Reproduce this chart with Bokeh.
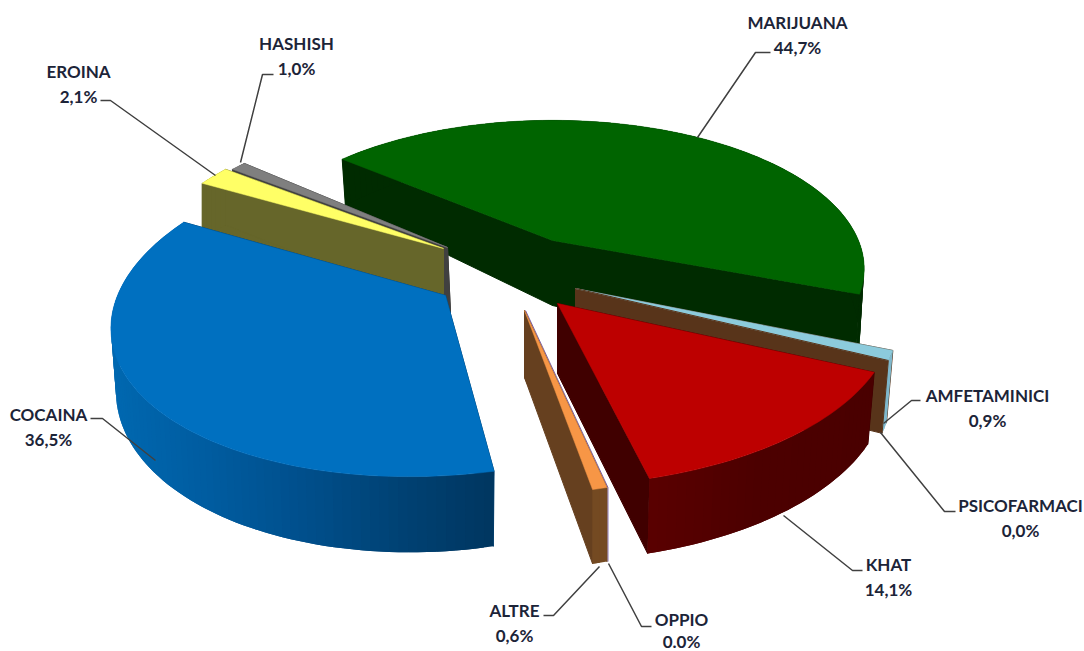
import math
from bokeh.plotting import figure
from bokeh.core.properties import value
from bokeh.embed import file_html
from bokeh.resources import INLINE

# data (clockwise from the first angle)
categories = ["MARIJUANA", "AMFETAMINICI", "PSICOFARMACI", "KHAT", "OPPIO", "ALTRE", "COCAINA", "EROINA", "HASHISH"]
shares = [44.7, 0.9, 0.0, 14.1, 0.0, 0.6, 36.5, 2.1, 1.0]
share_labels = ["44,7%", "0,9%", "0,0%", "14,1%", "0.0%", "0,6%", "36,5%", "2,1%", "1,0%"]

FIRST_ANGLE = 140.4

# look of each slice: colours
top_colors = {"MARIJUANA": "#006400", "AMFETAMINICI": "#8ccbdc", "PSICOFARMACI": "#5a3419", "KHAT": "#bd0000",
              "OPPIO": "#7a5aa0", "ALTRE": "#f79646", "COCAINA": "#0070c0", "EROINA": "#ffff66", "HASHISH": "#7f7f7f"}
radial_colors = {"MARIJUANA": "#002b00", "AMFETAMINICI": "#58341a", "KHAT": "#400000", "ALTRE": "#66401f",
                 "COCAINA": "#004070", "EROINA": "#66662a", "HASHISH": "#404040"}
# wall shading, left to right
outer_stops = {"MARIJUANA": ["#002b00", "#002b00"], "AMFETAMINICI": ["#7fb8cc", "#7fb8cc"],
               "KHAT": ["#5a0000", "#4c0000", "#4a0000"], "ALTRE": ["#744a22", "#744a22"],
               "COCAINA": ["#0068b0", "#005ca0", "#004f8c", "#004274", "#003660"],
               "EROINA": ["#66662a", "#66662a"], "HASHISH": ["#404040", "#404040"]}
# apex x, apex y, a, b, perspective k, shear, depth, depth exponent, bottom taper
geometry = {
    "MARIJUANA": (552, 240, 306, 143, 0.19, 0.0, 65, 3.0, 0.985),
    "AMFETAMINICI": (575, 288, 320, 165, 0.19, 0.06, 70, 0.5, 0.98),
    "PSICOFARMACI": (575, 288, 320, 165, 0.19, 0.06, 70, 0.5, 0.98),
    "KHAT": (557, 303, 335, 164, 0.10, 0.04, 70, 0.7, 0.98),
    "OPPIO": (525, 310, 320, 150, 0.19, 0.125, 67, 0.5, 1.0),
    "ALTRE": (524, 310, 320, 150, 0.19, 0.125, 67, 0.5, 1.0),
    "COCAINA": (445, 295, 328, 163, 0.10, 0.2, 60, 2.2, 0.985),
    "EROINA": (443, 248, 298, 151, 0.19, 0.0, 62, 1.0, 1.0),
    "HASHISH": (447, 247, 294, 149, 0.19, 0.0, 65, 1.0, 1.0),
}
apex_bottom_shift = {"HASHISH": 3}
draw_order = ["MARIJUANA", "HASHISH", "EROINA", "COCAINA", "AMFETAMINICI", "PSICOFARMACI", "KHAT", "OPPIO", "ALTRE"]

# label line centres, leader path
label_pos = {"MARIJUANA": (797, 22, 47), "AMFETAMINICI": (987, 395, 420), "PSICOFARMACI": (1020, 505, 530),
             "KHAT": (888, 564, 589), "OPPIO": (681, 619, 641), "ALTRE": (514, 610, 635), "COCAINA": (48, 414, 439),
             "EROINA": (78, 71, 96), "HASHISH": (296, 43, 68)}
leaders = {"MARIJUANA": [(697, 137), (755, 52), (770, 52)],
           "AMFETAMINICI": [(883, 423), (911, 400), (920, 400)],
           "PSICOFARMACI": [(880, 432), (944, 511), (955, 511)],
           "KHAT": [(783, 515), (852, 570), (862, 570)],
           "OPPIO": [(608, 563), (641, 626), (651, 626)],
           "ALTRE": [(599, 566), (553, 615), (543, 615)],
           "COCAINA": [(155, 460), (102, 418), (90, 418)],
           "EROINA": [(215, 175), (110, 100), (100, 100)],
           "HASHISH": [(240, 162), (262, 74), (273, 74)]}

p = figure(width=1084, height=651, x_range=(0, 1084), y_range=(651, 0), output_backend="svg",
           toolbar_location=None, min_border=0, outline_line_color=None, background_fill_color="white")
p.axis.visible = False
p.grid.visible = False


def project(name, deg):
    cx, cy, a, b, k, shear, d0, pw, taper = geometry[name]
    t = math.radians(deg)
    X, Y = math.cos(t), math.sin(t)
    s = 1 / (1 + k * Y)
    vy = b * Y * s
    x = a * X * s + shear * vy
    dep = d0 * s ** pw
    return (cx + x, cy - vy), (cx + x * taper, cy - vy + dep)


def lerp_color(stops, f):
    f = min(max(f, 0), 1) * (len(stops) - 1)
    i = min(int(f), len(stops) - 2)
    u = f - i
    c1 = [int(stops[i][j:j + 2], 16) for j in (1, 3, 5)]
    c2 = [int(stops[i + 1][j:j + 2], 16) for j in (1, 3, 5)]
    return "#%02x%02x%02x" % tuple(round(c1[j] + (c2[j] - c1[j]) * u) for j in range(3))


def poly(xs, ys, color):
    p.patch(xs, ys, fill_color=color, line_color=color, line_width=1)


starts = {}
acc = FIRST_ANGLE
for c, v in zip(categories, shares):
    sweep = v * 3.6
    starts[c] = (acc, acc - sweep)
    acc -= sweep

for name in draw_order:
    a0, a1 = starts[name]
    cx, cy, a, b, k, shear, d0, pw, taper = geometry[name]
    if a0 == a1:  # empty slice: only a thin edge
        (tx, ty), (bx, by) = project(name, a0)
        p.line([cx, tx, bx], [cy, ty, by], line_color=top_colors[name], line_width=1)
        continue
    n = max(2, int(abs(a0 - a1) / 1.5))
    angs = [a0 + (a1 - a0) * i / n for i in range(n + 1)]
    tops = [project(name, x)[0] for x in angs]
    bots = [project(name, x)[1] for x in angs]
    ax, ay = cx + apex_bottom_shift.get(name, 0), cy + d0
    # radial walls
    poly([cx, tops[0][0], bots[0][0], ax], [cy, tops[0][1], bots[0][1], ay], radial_colors[name])
    poly([cx, tops[-1][0], bots[-1][0], ax], [cy, tops[-1][1], bots[-1][1], ay], radial_colors[name])
    # outer wall, in strips for its shading; each strip overlaps the next so no seams show
    stops = outer_stops[name]
    xmin, xmax = min(q[0] for q in tops), max(q[0] for q in tops)
    for i in range(n):
        f = ((tops[i][0] + tops[i + 1][0]) / 2 - xmin) / max(xmax - xmin, 1)
        col = lerp_color(stops, f)
        j = min(i + 2, n)
        p.patch([tops[i][0], tops[i + 1][0], tops[j][0], bots[j][0], bots[i + 1][0], bots[i][0]],
                [tops[i][1], tops[i + 1][1], tops[j][1], bots[j][1], bots[i + 1][1], bots[i][1]],
                fill_color=col, line_color=None)
    # top face
    p.patch([cx] + [q[0] for q in tops], [cy] + [q[1] for q in tops], fill_color=top_colors[name],
            line_color=top_colors[name], line_width=0.5)

for name, path in leaders.items():
    p.line([q[0] for q in path], [q[1] for q in path], line_color="#404040", line_width=1.5)

for c, lab in zip(categories, share_labels):
    lx, ly, ly2 = label_pos[c]
    for txt, yy in ((c, ly), (lab, ly2)):
        p.text([lx], [yy], text=[txt], text_font=value("Lato"), text_font_style="bold", text_font_size="17px",
               text_color="#1c2438", text_align="center", text_baseline="middle")

open("out.html", "w").write(file_html(p, INLINE))
